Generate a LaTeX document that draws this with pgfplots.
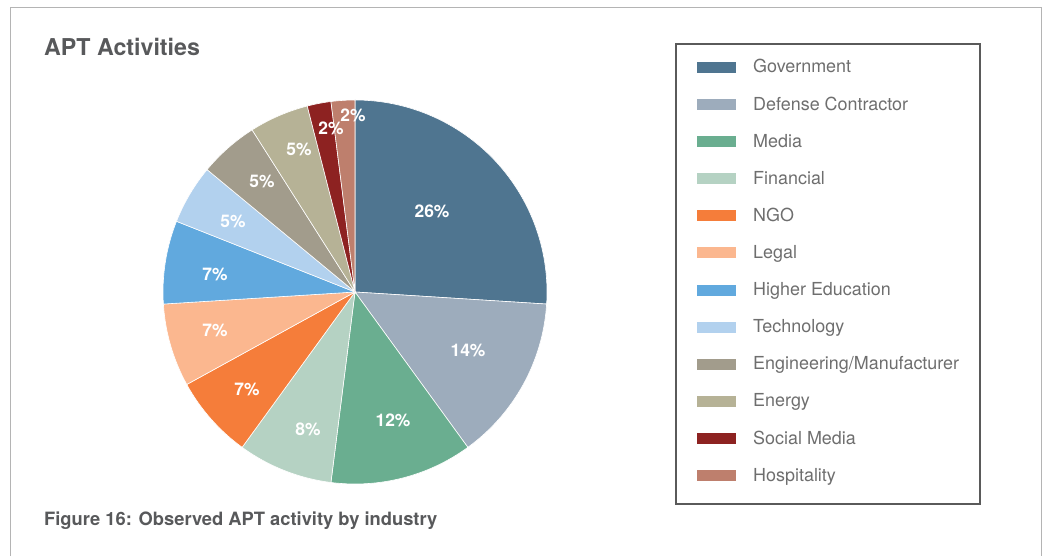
\documentclass[border=0pt]{standalone}
\usepackage{pgfplots}
\pgfplotsset{compat=1.18}
\usepackage{fontspec}
\setmainfont{TeX Gyre Heros}

\definecolor{cGov}{HTML}{4F7590}
\definecolor{cDef}{HTML}{9DACBC}
\definecolor{cMed}{HTML}{6AAE90}
\definecolor{cFin}{HTML}{B5D2C3}
\definecolor{cNGO}{HTML}{F57D3A}
\definecolor{cLeg}{HTML}{FBB78F}
\definecolor{cHE}{HTML}{61A9DE}
\definecolor{cTec}{HTML}{B2D1EE}
\definecolor{cEng}{HTML}{A29C8C}
\definecolor{cEne}{HTML}{B6B296}
\definecolor{cSM}{HTML}{8D2221}
\definecolor{cHos}{HTML}{BE7F6D}
\definecolor{frameGray}{HTML}{B4B4B4}
\definecolor{titleGray}{HTML}{58595B}
\definecolor{legGray}{HTML}{6E6E6E}
\definecolor{boxGray}{HTML}{5A5A5A}

\newcommand\labelfont{\fontsize{17.5}{20}\selectfont\bfseries}
\newcommand\legfont{\fontsize{18}{21}\selectfont}

\begin{document}
\begin{tikzpicture}
\begin{axis}[x=1bp, y=1bp, xmin=0, xmax=1043, ymin=0, ymax=556,
    y dir=reverse, hide axis, clip=false]

% page area
\path (axis cs:0,0) rectangle (axis cs:1043,556);
% outer frame
\draw[frameGray, line width=1bp] (axis cs:10,556) -- (axis cs:10,8) -- (axis cs:1041,8) -- (axis cs:1041,556);

\node[anchor=base west, inner sep=0, text=titleGray, font=\fontsize{23.3}{26}\selectfont\bfseries] at (axis cs:44,56) {APT Activities};
\node[anchor=base west, inner sep=0, text=titleGray, font=\fontsize{18.4}{21}\selectfont\bfseries] at (axis cs:44,525) {Figure 16: Observed APT activity by industry};

% slices: share (%) / colour
\gdef\cum{0}
\foreach \v/\c in {26/cGov, 14/cDef, 12/cMed, 8/cFin, 7/cNGO, 7/cLeg, 7/cHE, 5/cTec, 5/cEng, 5/cEne, 2/cSM, 2/cHos} {
  \pgfmathsetmacro\a{90-3.6*\cum}
  \pgfmathsetmacro\b{90-3.6*(\cum+\v)}
  \edef\temp{\noexpand\fill[\c, draw=white, line width=0.6bp] (axis cs:355,292) -- ++(\a:192bp) arc[start angle=\a, end angle=\b, radius=192bp] -- cycle;}
  \temp
  \pgfmathsetmacro\n{\cum+\v}
  \xdef\cum{\n}
}

% slice labels
\foreach \v/\lx/\ly in {26/432/211, 14/468/350, 12/393/420, 8/308/429, 7/247/389, 7/215/330, 7/215/274, 5/233/221, 5/262/181, 5/299/149, 2/331/128, 2/353/115} {
  \edef\temp{\noexpand\node[text=white, font=\noexpand\labelfont, inner sep=0] at (axis cs:\lx,\ly) {\v\noexpand\%};}
  \temp
}

% legend
\draw[boxGray, line width=2.5bp] (axis cs:676,44) rectangle (axis cs:980,504);
\foreach \i/\c/\lab in {0/cGov/Government, 1/cDef/Defense Contractor, 2/cMed/Media, 3/cFin/Financial, 4/cNGO/NGO, 5/cLeg/Legal, 6/cHE/Higher Education, 7/cTec/Technology, 8/cEng/{Engineering/Manufacturer}, 9/cEne/Energy, 10/cSM/Social Media, 11/cHos/Hospitality} {
  \pgfmathsetmacro\ya{62+37.1*\i}
  \pgfmathsetmacro\yb{\ya+11}
  \edef\temp{\noexpand\fill[\c] (axis cs:697,\ya) rectangle (axis cs:736,\yb);
    \noexpand\node[anchor=base west, inner sep=0, text=legGray, font=\noexpand\legfont] at (axis cs:753,\yb) {\lab};}
  \temp
}
\end{axis}
\end{tikzpicture}
\end{document}
